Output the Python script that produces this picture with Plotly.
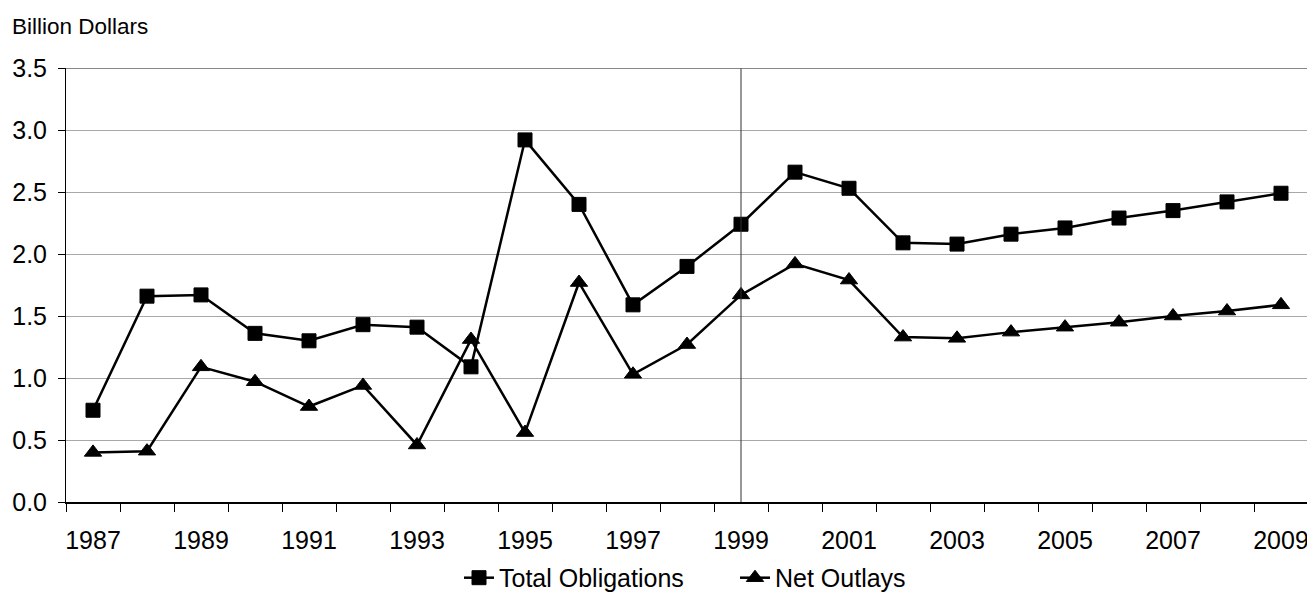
import plotly.graph_objects as go

years = list(range(1987, 2010))
total_obligations = [0.74, 1.66, 1.67, 1.36, 1.30, 1.43, 1.41, 1.09, 2.92, 2.40, 1.59, 1.90,
                     2.24, 2.66, 2.53, 2.09, 2.08, 2.16, 2.21, 2.29, 2.35, 2.42, 2.49]
net_outlays = [0.40, 0.41, 1.09, 0.97, 0.77, 0.94, 0.46, 1.31, 0.56, 1.77, 1.03, 1.27,
               1.67, 1.92, 1.79, 1.33, 1.32, 1.37, 1.41, 1.45, 1.50, 1.54, 1.59]
label_years = list(range(1987, 2010, 2))
y_ticks = [0.0, 0.5, 1.0, 1.5, 2.0, 2.5, 3.0, 3.5]
marker_year = 1999

FONT = "Arial, Liberation Sans, sans-serif"

# page has an 8px body margin, so the figure is sized to fit the 1315x604 window
W, H = 1307, 596

fig = go.Figure()
fig.add_trace(go.Scatter(
    x=years, y=total_obligations, name="Total Obligations", mode="lines+markers",
    line=dict(color="black", width=2.5),
    marker=dict(symbol="square", size=14, color="black", line=dict(color="black", width=1)),
))
fig.add_trace(go.Scatter(
    x=years, y=net_outlays, name="Net Outlays", mode="lines+markers",
    line=dict(color="black", width=2.5),
    marker=dict(symbol="triangle-up", size=15, color="black", line=dict(color="black", width=1)),
))

# vertical reference line at 1999
fig.add_shape(type="line", xref="x", yref="paper", x0=marker_year, x1=marker_year, y0=0, y1=1,
              line=dict(color="#303030", width=1))
# darker top gridline
fig.add_shape(type="line", xref="paper", yref="y", x0=0, x1=1, y0=y_ticks[-1], y1=y_ticks[-1],
              line=dict(color="#606060", width=1.5))

fig.update_layout(
    width=W, height=H,
    margin=dict(l=58, r=7, t=60, b=102, autoexpand=False),
    paper_bgcolor="white", plot_bgcolor="white",
    font=dict(family=FONT, size=25, color="black"),
    showlegend=True,
    legend=dict(orientation="h", x=393/1242, xanchor="left", y=-0.175, yanchor="middle",
                font=dict(size=25), itemsizing="trace", bgcolor="rgba(0,0,0,0)",
                entrywidth=231, entrywidthmode="pixels"),
    title=dict(text="Billion Dollars", xref="container", yref="container", x=4/W, xanchor="left",
               y=1-18/H, yanchor="middle", font=dict(size=22.5, family=FONT, color="black")),
)
fig.update_xaxes(
    range=[years[0]-0.5, years[-1]+0.5], tickmode="array", tickvals=label_years,
    ticktext=[str(y) for y in label_years], ticks="", showgrid=False, zeroline=False,
    showline=True, linecolor="black", linewidth=1.5, ticklabelstandoff=15, automargin=False,
    minor=dict(tickmode="linear", tick0=years[0]-0.5, dtick=1, ticks="outside", ticklen=8,
               tickcolor="black", tickwidth=1, showgrid=False),
)
fig.update_yaxes(
    range=[0, 3.5], tickmode="array", tickvals=y_ticks, tickformat=".1f",
    ticks="outside", ticklen=7, tickcolor="black", showgrid=True, gridcolor="#a8a8a8", gridwidth=1,
    zeroline=False, showline=True, linecolor="black", linewidth=1, mirror=True,
    ticklabelstandoff=6, automargin=False,
)

fig.write_html("out.html")
